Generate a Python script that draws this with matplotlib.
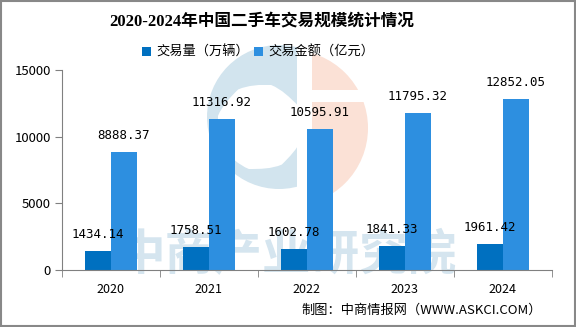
import numpy as np
import matplotlib.pyplot as plt
from matplotlib.patches import Circle, Rectangle, PathPatch
from matplotlib.path import Path

plt.rcParams['font.family'] = ['Noto Sans CJK SC', 'DejaVu Sans']

years = ['2020', '2021', '2022', '2023', '2024']
volume = [1434.14, 1758.51, 1602.78, 1841.33, 1961.42]      # 交易量（万辆）
amount = [8888.37, 11316.92, 10595.91, 11795.32, 12852.05]  # 交易金额（亿元）

dark = '#0070C0'
light = '#2D8FE0'

fig = plt.figure(figsize=(5.76, 3.27), dpi=100)
ax = fig.add_axes([0.1076, 0.174, 0.85, 0.612])

# watermark logo and text behind the bars (pixel coords)
wm = fig.add_axes([0, 0, 1, 1], zorder=0)
wm.set_xlim(0, 576)
wm.set_ylim(327, 0)
wm.axis('off')
ring = Path.make_compound_path(Path.circle((279, 117), 72),
                               Path.circle((260, 127), 42, readonly=False).deepcopy())
inner = Path.circle((260, 127), 42)
ring = Path(np.concatenate([Path.circle((279, 117), 72).vertices, inner.vertices[::-1]]),
            np.concatenate([Path.circle((279, 117), 72).codes, inner.codes]))
blue = PathPatch(ring, color='#d2e4ee', lw=0)
wm.add_patch(blue)
blue.set_clip_path(Rectangle((0, 0), 297, 327, transform=wm.transData))
orange = Circle((290, 128), 78, color='#fbe1d6', lw=0)
wm.add_patch(orange)
orange.set_clip_path(Rectangle((312, 0), 264, 327, transform=wm.transData))
wm.add_patch(Rectangle((312, 90), 60, 12, color='white', lw=0))
wm.text(287, 256, '中商产业研究院', fontsize=35, color='#d5e5ef', ha='center', va='center',
        fontweight='bold')
ax.set_zorder(1)
ax.patch.set_alpha(0)

x = np.arange(len(years))
w = 0.265
b1 = ax.bar(x - w / 2, volume, w, color=dark, label='交易量（万辆）')
b2 = ax.bar(x + w / 2, amount, w, color=light, label='交易金额（亿元）')

for bars, vals in [(b1, volume), (b2, amount)]:
    for r, v in zip(bars, vals):
        ax.annotate(f'{v:.2f}', (r.get_x() + r.get_width() / 2, v), xytext=(0, 7),
                    textcoords='offset points', ha='center', va='bottom', fontsize=9,
                    family=['DejaVu Sans Mono', 'DejaVu Sans'])

ax.set_xlim(-0.5, 4.5)
ax.set_ylim(0, 15000)
ax.set_yticks([0, 5000, 10000, 15000])
ax.set_xticks(x)
ax.set_xticklabels(years)
ax.set_xticks(np.arange(-0.5, 5, 1), minor=True)
ax.tick_params(axis='x', which='major', length=0, pad=9, labelsize=9)
ax.tick_params(axis='x', which='minor', length=5, color='#808080')
ax.tick_params(axis='y', length=5, color='#808080', labelsize=9.5, pad=3)
for s in ['top', 'right']:
    ax.spines[s].set_visible(False)
for s in ['left', 'bottom']:
    ax.spines[s].set_color('#808080')

fig.text(0.455, 0.935, '2020-2024年中国二手车交易规模统计情况', ha='center', va='center',
         fontsize=12, fontweight='bold', family=['Liberation Serif', 'Noto Sans CJK SC'])
fig.legend(handles=[b1, b2], loc='center', bbox_to_anchor=(0.448, 0.84), ncol=2, frameon=False,
           fontsize=9.5, handlelength=0.7, handleheight=0.7, handletextpad=0.4, columnspacing=0.4)
fig.text(0.941, 0.052, '制图：中商情报网（WWW.ASKCI.COM）', ha='right', va='center', fontsize=9.5)

fig.patches.append(Rectangle((0.001, 0.002), 0.997, 0.995, transform=fig.transFigure,
                             fill=False, edgecolor='#888888', lw=1.5))

fig.savefig('out.png', dpi=100)
